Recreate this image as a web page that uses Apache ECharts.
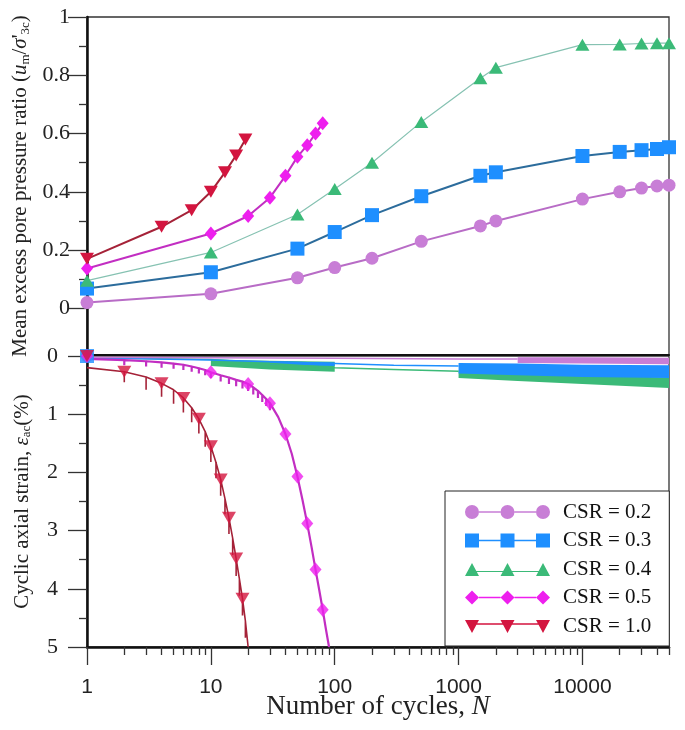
<!DOCTYPE html>
<html><head><meta charset="utf-8">
<script src="https://cdn.jsdelivr.net/npm/echarts@6/dist/echarts.min.js"></script>
<style>html,body{margin:0;padding:0;background:#fff}#c{width:685px;height:730px}</style>
</head><body><div id="c"></div>
<script>
// ---------------- data ----------------
const csrNames = ['CSR = 0.2', 'CSR = 0.3', 'CSR = 0.4', 'CSR = 0.5', 'CSR = 1.0'];

const xTickValues = [1, 10, 100, 1000, 10000];
const xTickLabels = ['1', '10', '100', '1000', '10000'];
const yTopTickValues = [0, 0.2, 0.4, 0.6, 0.8, 1];
const yTopTickLabels = ['0', '0.2', '0.4', '0.6', '0.8', '1'];
const yTopMinorTicks = [0.1, 0.3, 0.5, 0.7, 0.9];
const yBotTickLabels = ['0', '1', '2', '3', '4', '5'];

// top panel: mean excess pore pressure ratio
const nLong = [1, 10, 50, 100, 200, 500, 1500, 2000, 10000, 20000, 30000, 40000, 50000];
const u02 = [0.020, 0.050, 0.105, 0.140, 0.172, 0.230, 0.283, 0.300, 0.375, 0.400, 0.413, 0.420, 0.423];
const u03 = [0.068, 0.124, 0.205, 0.262, 0.320, 0.385, 0.455, 0.467, 0.523, 0.537, 0.543, 0.547, 0.553];
const u04 = [0.095, 0.192, 0.322, 0.410, 0.500, 0.640, 0.790, 0.826, 0.905, 0.906, 0.909, 0.910, 0.910];
const n05 = [1, 10, 20, 30, 40, 50, 60, 70, 80];
const u05 = [0.137, 0.257, 0.317, 0.380, 0.455, 0.520, 0.560, 0.600, 0.635];
const n10 = [1, 4, 7, 10, 13, 16, 19];
const u10 = [0.170, 0.280, 0.337, 0.400, 0.467, 0.525, 0.580];

// bottom panel: cyclic axial strain (%)
// CSR = 1.0 : per-cycle upper and lower strain
const cyc10 = [1, 2, 3, 4, 5, 6, 7, 8, 9, 10, 11, 12, 13, 14, 15, 16, 17, 18, 19, 20];
const eTop10 = [0.20, 0.27, 0.36, 0.47, 0.58, 0.72, 0.89, 1.08, 1.30, 1.55, 1.83, 2.12, 2.45, 2.78, 3.13, 3.48, 3.83, 4.17, 4.55, 5.00];
const eBot10 = [0.20, 0.45, 0.58, 0.70, 0.82, 0.97, 1.14, 1.33, 1.56, 1.82, 2.10, 2.40, 2.72, 3.06, 3.42, 3.78, 4.12, 4.46, 4.84, 5.00];
const mk10N = [1, 2, 4, 6, 8, 10, 12, 14, 16, 18];
const mk10E = [0, 0.27, 0.47, 0.72, 1.08, 1.55, 2.12, 2.78, 3.48, 4.17];
// CSR = 0.5
const cyc05 = [1, 2, 3, 4, 5, 6, 7, 8, 9, 10, 12, 14, 16, 18, 20, 22, 24, 26, 28, 30, 35, 40, 45, 50, 55, 60, 65, 70, 75, 80, 85, 90];
const eTop05 = [0.05, 0.07, 0.09, 0.11, 0.13, 0.15, 0.18, 0.21, 0.24, 0.28, 0.33, 0.37, 0.41, 0.44, 0.48, 0.54, 0.60, 0.67, 0.74, 0.81, 1.05, 1.34, 1.68, 2.07, 2.48, 2.88, 3.28, 3.67, 4.02, 4.36, 4.70, 5.00];
const eBot05 = [0.05, 0.16, 0.18, 0.20, 0.22, 0.24, 0.27, 0.30, 0.33, 0.38, 0.44, 0.48, 0.52, 0.56, 0.60, 0.66, 0.72, 0.79, 0.86, 0.93, 1.05, 1.34, 1.68, 2.07, 2.48, 2.88, 3.28, 3.67, 4.02, 4.36, 4.70, 5.00];
const mk05N = [1, 10, 20, 30, 40, 50, 60, 70, 80];
const mk05E = [0, 0.28, 0.48, 0.81, 1.34, 2.07, 2.88, 3.67, 4.36];
// CSR = 0.2 / 0.3 / 0.4 : thin lines then dense bands (min / max strain)
const cyc02 = [1, 10, 100, 1000, 3000];
const e02 = [0.02, 0.03, 0.04, 0.05, 0.05];
const band02N = [3000, 10000, 50000];
const band02Lo = [0.02, 0.02, 0.03];
const band02Hi = [0.12, 0.13, 0.14];
const cyc03 = [1, 10, 30, 100, 300, 1000];
const e03 = [0.03, 0.07, 0.10, 0.13, 0.16, 0.17];
const band03aN = [30, 100];
const band03aLo = [0.09, 0.11];
const band03aHi = [0.14, 0.17];
const band03bN = [1000, 3000, 10000, 50000];
const band03bLo = [0.12, 0.13, 0.15, 0.16];
const band03bHi = [0.30, 0.33, 0.36, 0.38];
const cyc04 = [1, 10, 100, 300, 1000];
const e04 = [0.03, 0.06, 0.20, 0.23, 0.26];
const band04aN = [10, 30, 100];
const band04aLo = [0.06, 0.08, 0.10];
const band04aHi = [0.17, 0.23, 0.27];
const band04bN = [1000, 3000, 10000, 50000];
const band04bLo = [0.25, 0.29, 0.33, 0.37];
const band04bHi = [0.38, 0.43, 0.48, 0.55];

// ---------------- styling ----------------
const serif = "'Liberation Serif','Times New Roman',serif";
const sans = "'Liberation Sans',Arial,sans-serif";
const C = {
  c02: '#c87ed6', l02: '#b86cc6',
  c03: '#1e8fff', l03: '#2c6c9c',
  c04: '#3bba78', l04: '#86c2b2',
  c05: '#ee1fee', l05: '#c22ec2',
  c10: '#d3153f', l10: '#a52238'
};
const XMAX = 50000;
const xMinorTickValues = [];
for (let d = 1; d <= XMAX; d *= 10) {
  for (let k = 2; k <= 9; k++) { if (k * d <= XMAX) xMinorTickValues.push(Math.log10(k * d)); }
}

function pairs(xs, ys) { return xs.map((x, i) => [x, ys[i]]); }
function zig(N, top, bot) {
  const out = [];
  for (let i = 0; i < N.length; i++) {
    out.push([N[i], top[i]]);
    if (bot[i] !== top[i]) { out.push([N[i], bot[i]]); out.push([N[i], top[i]]); }
  }
  return out;
}
function band(name, color, N, lo, hi) {
  return {
    type: 'custom', name: name, xAxisIndex: 1, yAxisIndex: 2, z: 2, silent: true,
    data: [[N[0], lo[0]]],
    renderItem: function (params, api) {
      const pts = [];
      for (let i = 0; i < N.length; i++) pts.push(api.coord([N[i], hi[i]]));
      for (let i = N.length - 1; i >= 0; i--) pts.push(api.coord([N[i], lo[i]]));
      return { type: 'polygon', shape: { points: pts }, style: { fill: color } };
    }
  };
}
function findLabel(vals, labels, v) {
  for (let i = 0; i < vals.length; i++) if (Math.abs(vals[i] - v) < 1e-6) return labels[i];
  return '';
}

const icons = {
  circle: 'path://M0,7A7,7,0,1,1,14,7A7,7,0,1,1,0,7Z M35.5,7A7,7,0,1,1,49.5,7A7,7,0,1,1,35.5,7Z M71,7A7,7,0,1,1,85,7A7,7,0,1,1,71,7Z M14,6.2H35.5V7.8H14Z M49.5,6.2H71V7.8H49.5Z',
  rect: 'path://M0,0H14V14H0Z M35.5,0H49.5V14H35.5Z M71,0H85V14H71Z M14,6.2H35.5V7.8H14Z M49.5,6.2H71V7.8H49.5Z',
  tri: 'path://M0,14L7,1L14,14Z M35.5,14L42.5,1L49.5,14Z M71,14L78,1L85,14Z M10,9H39V10H10Z M46,9H75V10H46Z M0,0H0.01V0.01H0Z',
  diamond: 'path://M0,7L7,0L14,7L7,14Z M35.5,7L42.5,0L49.5,7L42.5,14Z M71,7L78,0L85,7L78,14Z M14,6.2H35.5V7.8H14Z M49.5,6.2H71V7.8H49.5Z',
  down: 'path://M0,1H14L7,14Z M35.5,1H49.5L42.5,14Z M71,1H85L78,14Z M10,4.2H39V5.8H10Z M46,4.2H75V5.8H46Z M0,0H0.01V0.01H0Z'
};

const axisLineStyle = { color: '#111', width: 2.5 };
const tickStyle = { color: '#333', width: 1.3 };

const option = {
  animation: false,
  backgroundColor: '#fff',
  grid: [
    { left: 87, top: 17, width: 582, height: 338, show: true, borderColor: '#333', borderWidth: 1.3, backgroundColor: 'transparent', outerBoundsMode: 'none' },
    { left: 87, top: 356, width: 582, height: 291, show: true, borderColor: '#333', borderWidth: 1.3, backgroundColor: 'transparent', outerBoundsMode: 'none' }
  ],
  xAxis: [
    { gridIndex: 0, type: 'log', logBase: 10, min: 1, max: XMAX,
      axisLine: { show: true, onZero: false, lineStyle: { color: '#111', width: 2 } },
      axisTick: { show: false }, axisLabel: { show: false }, splitLine: { show: false } },
    { gridIndex: 1, type: 'log', logBase: 10, min: 1, max: XMAX,
      axisLine: { show: true, onZero: false, lineStyle: axisLineStyle },
      axisTick: { show: false }, axisLabel: { show: false }, splitLine: { show: false },
      name: '{t|Number of cycles, }{i|N}', nameLocation: 'middle', nameGap: 46,
      nameTextStyle: { color: '#222', fontFamily: serif, fontSize: 27,
        rich: { t: { fontFamily: serif, fontSize: 27, color: '#222' }, i: { fontFamily: serif, fontSize: 27, fontStyle: 'italic', color: '#222' } } } },
    { gridIndex: 1, type: 'value', position: 'bottom', min: 0, max: Math.log10(XMAX),
      axisLine: { show: false, onZero: false },
      axisTick: { show: true, length: 18, customValues: xTickValues.map(Math.log10), lineStyle: tickStyle },
      axisLabel: { show: true, customValues: xTickValues.map(Math.log10), margin: 30, fontFamily: sans, fontSize: 21, color: '#222',
        formatter: function (v) { return findLabel(xTickValues.map(Math.log10), xTickLabels, v); } },
      splitLine: { show: false } },
    { gridIndex: 1, type: 'value', position: 'bottom', min: 0, max: Math.log10(XMAX),
      axisLine: { show: false, onZero: false },
      axisTick: { show: true, length: 8, customValues: xMinorTickValues, lineStyle: tickStyle },
      axisLabel: { show: false }, splitLine: { show: false } }
  ],
  yAxis: [
    { gridIndex: 0, type: 'value', min: -0.16, max: 1, position: 'left',
      axisLine: { show: true, onZero: false, lineStyle: axisLineStyle },
      axisTick: { show: true, length: 19, customValues: yTopTickValues, lineStyle: tickStyle },
      axisLabel: { show: true, customValues: yTopTickValues, margin: 17, fontFamily: serif, fontSize: 22, color: '#222',
        formatter: function (v) { return findLabel(yTopTickValues, yTopTickLabels, v); } },
      splitLine: { show: false },
      name: "{t|Mean excess pore pressure ratio (}{i|u}{s|m}{t|/}{i|σ}{t|'}{s|3c}{t|)}",
      nameLocation: 'middle', nameGap: 54,
      nameTextStyle: { color: '#222', fontFamily: serif, fontSize: 21,
        rich: { t: { fontFamily: serif, fontSize: 21, color: '#222' },
                i: { fontFamily: serif, fontSize: 21, fontStyle: 'italic', color: '#222' },
                s: { fontFamily: serif, fontSize: 13, color: '#222', padding: [9, 0, 0, 0] } } } },
    { gridIndex: 0, type: 'value', min: -0.16, max: 1, position: 'left',
      axisLine: { show: false, onZero: false },
      axisTick: { show: true, length: 8, customValues: yTopMinorTicks, lineStyle: tickStyle },
      axisLabel: { show: false }, splitLine: { show: false } },
    { gridIndex: 1, type: 'value', inverse: true, min: 0, max: 5, interval: 1, position: 'left',
      axisLine: { show: true, onZero: false, lineStyle: axisLineStyle },
      axisTick: { show: true, length: 19, lineStyle: tickStyle },
      minorTick: { show: true, splitNumber: 2, length: 8, lineStyle: tickStyle },
      axisLabel: { show: true, margin: 29, fontFamily: serif, fontSize: 22, color: '#222',
        formatter: function (v, i) { return yBotTickLabels[i]; } },
      splitLine: { show: false },
      name: '{t|Cyclic axial strain, }{i|ε}{s|ac}{t|(%)}',
      nameLocation: 'middle', nameGap: 54,
      nameTextStyle: { color: '#222', fontFamily: serif, fontSize: 21,
        rich: { t: { fontFamily: serif, fontSize: 21, color: '#222' },
                i: { fontFamily: serif, fontSize: 21, fontStyle: 'italic', color: '#222' },
                s: { fontFamily: serif, fontSize: 13, color: '#222', padding: [9, 0, 0, 0] } } } }
  ],
  legend: {
    orient: 'vertical', left: 445, top: 491,
    padding: [10, 18, 9, 20],
    itemWidth: 85, itemHeight: 14, itemGap: 6.5,
    borderColor: '#222', borderWidth: 1, backgroundColor: '#fff',
    selectedMode: false,
    textStyle: { fontFamily: serif, fontSize: 21, color: '#111', padding: [0, 0, 0, 8], lineHeight: 22 },
    data: [
      { name: csrNames[0], icon: icons.circle },
      { name: csrNames[1], icon: icons.rect },
      { name: csrNames[2], icon: icons.tri },
      { name: csrNames[3], icon: icons.diamond },
      { name: csrNames[4], icon: icons.down }
    ],
    z: 20
  },
  series: [
    // ---- top panel ----
    { type: 'line', name: csrNames[0], xAxisIndex: 0, yAxisIndex: 0, data: pairs(nLong, u02),
      symbol: 'circle', symbolSize: 13, itemStyle: { color: C.c02 }, lineStyle: { color: C.l02, width: 2 }, z: 3 },
    { type: 'line', name: csrNames[1], xAxisIndex: 0, yAxisIndex: 0, data: pairs(nLong, u03),
      symbol: 'rect', symbolSize: 14, itemStyle: { color: C.c03 }, lineStyle: { color: C.l03, width: 2 }, z: 3 },
    { type: 'line', name: csrNames[2], xAxisIndex: 0, yAxisIndex: 0, data: pairs(nLong, u04),
      symbol: 'triangle', symbolSize: [14, 12], itemStyle: { color: C.c04 }, lineStyle: { color: C.l04, width: 1.2 }, z: 3 },
    { type: 'line', name: csrNames[3], xAxisIndex: 0, yAxisIndex: 0, data: pairs(n05, u05),
      symbol: 'diamond', symbolSize: [12, 14], itemStyle: { color: C.c05 }, lineStyle: { color: C.l05, width: 2 }, z: 3 },
    { type: 'line', name: csrNames[4], xAxisIndex: 0, yAxisIndex: 0, data: pairs(n10, u10),
      symbol: 'triangle', symbolRotate: 180, symbolSize: [14, 12], itemStyle: { color: C.c10 }, lineStyle: { color: C.l10, width: 2 }, z: 3 },

    // ---- bottom panel: low CSR bands ----
    band(csrNames[2], C.c04, band04aN, band04aLo, band04aHi),
    band(csrNames[2], C.c04, band04bN, band04bLo, band04bHi),
    { type: 'line', name: csrNames[2], xAxisIndex: 1, yAxisIndex: 2, data: pairs(cyc04, e04),
      symbol: 'none', lineStyle: { color: C.c04, width: 1.5 }, z: 2 },
    band(csrNames[1], C.c03, band03aN, band03aLo, band03aHi),
    band(csrNames[1], C.c03, band03bN, band03bLo, band03bHi),
    { type: 'line', name: csrNames[1], xAxisIndex: 1, yAxisIndex: 2, data: pairs(cyc03, e03),
      symbol: 'none', lineStyle: { color: C.c03, width: 1.5 }, z: 2 },
    band(csrNames[0], C.c02, band02N, band02Lo, band02Hi),
    { type: 'line', name: csrNames[0], xAxisIndex: 1, yAxisIndex: 2, data: pairs(cyc02, e02),
      symbol: 'none', lineStyle: { color: C.c02, width: 1.5 }, z: 2 },
    { type: 'scatter', name: csrNames[0], xAxisIndex: 1, yAxisIndex: 2, data: [[1, 0]],
      symbol: 'circle', symbolSize: 13, itemStyle: { color: C.c02 }, z: 4 },
    { type: 'scatter', name: csrNames[1], xAxisIndex: 1, yAxisIndex: 2, data: [[1, 0]],
      symbol: 'rect', symbolSize: 14, itemStyle: { color: C.c03 }, z: 4 },

    // ---- bottom panel: CSR 0.5 ----
    { type: 'line', name: csrNames[3], xAxisIndex: 1, yAxisIndex: 2, data: zig(cyc05, eTop05, eBot05),
      symbol: 'none', lineStyle: { color: C.l05, width: 2.2 }, z: 4 },
    { type: 'scatter', name: csrNames[3], xAxisIndex: 1, yAxisIndex: 2, data: pairs(mk05N, mk05E),
      symbol: 'diamond', symbolSize: [12, 14], itemStyle: { color: C.c05 }, z: 5 },

    // ---- bottom panel: CSR 1.0 ----
    { type: 'line', name: csrNames[4], xAxisIndex: 1, yAxisIndex: 2, data: zig(cyc10, eTop10, eBot10),
      symbol: 'none', lineStyle: { color: C.l10, width: 1.6 }, z: 4 },
    { type: 'scatter', name: csrNames[4], xAxisIndex: 1, yAxisIndex: 2, data: pairs(mk10N, mk10E),
      symbol: 'triangle', symbolRotate: 180, symbolSize: [14, 12], itemStyle: { color: C.c10 }, z: 5 }
  ]
};

const chart = echarts.init(document.getElementById('c'), null, { renderer: 'canvas' });
chart.setOption(option);
</script>
</body></html>
